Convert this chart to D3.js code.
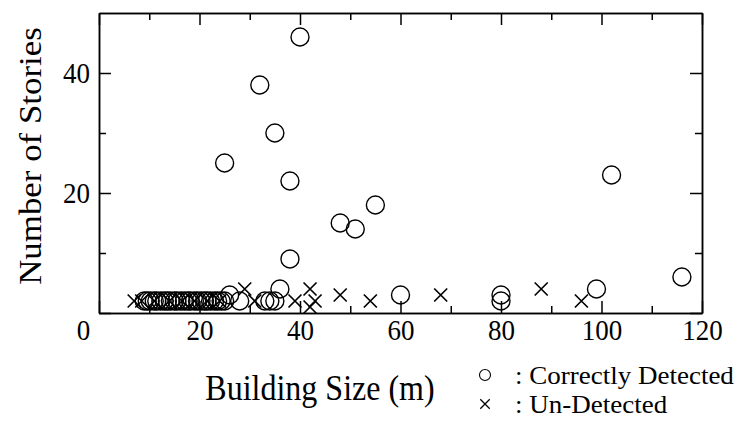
<!DOCTYPE html>
<html>
<head>
<meta charset="utf-8">
<script src="https://cdn.jsdelivr.net/npm/d3@7"></script>
<style>
  body { margin: 0; background: #fff; }
  svg { display: block; }
  .axis path, .axis line { stroke: #000; stroke-width: 1.5; }
  .axis text { font-family: "Liberation Serif", "Times New Roman", serif; font-size: 27px; fill: #000; }
  .title { font-family: "Liberation Serif", "Times New Roman", serif; font-size: 32px; fill: #000; }
  .legend text { font-family: "Liberation Serif", "Times New Roman", serif; font-size: 25px; fill: #000; }
</style>
</head>
<body>
<svg id="chart"></svg>
<script>
// Correctly detected buildings (circles)
const correctSize = [40, 32, 35, 25, 38, 55, 48, 51, 38, 102, 116, 99, 60, 80, 80, 36, 26, 28, 33, 34, 35,
  9, 9.6, 10.2, 11, 11.5, 12.3, 13, 13.6, 14.2, 15, 15.5, 16.3, 17, 17.7, 18.2, 19,
  19.6, 20.3, 21, 21.5, 22.2, 23, 23.6, 24.3, 25];
const correctStories = [46, 38, 30, 25, 22, 18, 15, 14, 9, 23, 6, 4, 3, 3, 2, 4, 3, 2, 2, 2, 2,
  2, 2, 2, 2, 2, 2, 2, 2, 2, 2, 2, 2, 2, 2, 2, 2,
  2, 2, 2, 2, 2, 2, 2, 2, 2];

// Un-detected buildings (crosses)
const missedSize = [7, 8.5, 11, 14, 16.5, 19, 21.5, 24, 29, 31, 39, 42, 43, 42, 48, 54, 68, 88, 96];
const missedStories = [2, 2, 2, 2, 2, 2, 2, 2, 4, 2, 2, 4, 2, 1, 3, 2, 3, 4, 2];

const xMajorTicks = [0, 20, 40, 60, 80, 100, 120];
const xMinorTicks = [10, 30, 50, 70, 90, 110];
const yMajorTicks = [0, 20, 40];
const yMinorTicks = [10, 30];

const legendLabels = [": Correctly Detected", ": Un-Detected"];

const width = 745;
const height = 421;
const margin = { top: 13, right: 43, bottom: 108, left: 99 };
const stretch = 1.09; // text in the source is a bit taller than wide

const svg = d3.select("#chart").attr("width", width).attr("height", height);

const xScale = d3.scaleLinear()
  .domain([0, 120])
  .range([margin.left, width - margin.right]);

const yScale = d3.scaleLinear()
  .domain([0, 50])
  .range([height - margin.bottom, margin.top]);

const bottom = height - margin.bottom;
const right = width - margin.right;

// bottom axis with labels
const xAxis = svg.append("g")
  .attr("class", "axis")
  .attr("transform", `translate(0,${bottom})`)
  .call(d3.axisBottom(xScale).tickValues(xMajorTicks).tickSizeInner(-12).tickSizeOuter(0).tickPadding(6));
xAxis.selectAll(".tick text").attr("transform", `scale(1,${stretch})`);
xAxis.selectAll(".tick").filter((d) => d === 0).select("text").attr("x", -16);

svg.append("g")
  .attr("class", "axis")
  .attr("transform", `translate(0,${bottom})`)
  .call(d3.axisBottom(xScale).tickValues(xMinorTicks).tickFormat("").tickSizeInner(-7).tickSizeOuter(0));

// top axis, ticks only
svg.append("g")
  .attr("class", "axis")
  .attr("transform", `translate(0,${margin.top})`)
  .call(d3.axisTop(xScale).tickValues(xMajorTicks).tickFormat("").tickSizeInner(-12).tickSizeOuter(0));
svg.append("g")
  .attr("class", "axis")
  .attr("transform", `translate(0,${margin.top})`)
  .call(d3.axisTop(xScale).tickValues(xMinorTicks).tickFormat("").tickSizeInner(-7).tickSizeOuter(0));

// left axis
const yAxis = svg.append("g")
  .attr("class", "axis")
  .attr("transform", `translate(${margin.left},0)`)
  .call(d3.axisLeft(yScale).tickValues(yMajorTicks).tickFormat((d) => (d === 0 ? "" : d))
    .tickSizeInner(-12).tickSizeOuter(0).tickPadding(9));
yAxis.selectAll(".tick text").attr("transform", `scale(1,${stretch})`);
svg.append("g")
  .attr("class", "axis")
  .attr("transform", `translate(${margin.left},0)`)
  .call(d3.axisLeft(yScale).tickValues(yMinorTicks).tickFormat("").tickSizeInner(-7).tickSizeOuter(0));

// right axis, ticks only
svg.append("g")
  .attr("class", "axis")
  .attr("transform", `translate(${right},0)`)
  .call(d3.axisRight(yScale).tickValues(yMajorTicks).tickFormat("").tickSizeInner(-12).tickSizeOuter(0));
svg.append("g")
  .attr("class", "axis")
  .attr("transform", `translate(${right},0)`)
  .call(d3.axisRight(yScale).tickValues(yMinorTicks).tickFormat("").tickSizeInner(-7).tickSizeOuter(0));

// points
const correct = correctSize.map((x, i) => ({ x: x, y: correctStories[i] }));
const missed = missedSize.map((x, i) => ({ x: x, y: missedStories[i] }));

svg.append("g")
  .selectAll("circle")
  .data(correct)
  .enter()
  .append("circle")
  .attr("cx", (d) => xScale(d.x))
  .attr("cy", (d) => yScale(d.y))
  .attr("r", 9)
  .attr("fill", "none")
  .attr("stroke", "#000")
  .attr("stroke-width", 1.4);

const cross = d3.symbol(d3.symbolX, 112);
svg.append("g")
  .selectAll("path")
  .data(missed)
  .enter()
  .append("path")
  .attr("transform", (d) => `translate(${xScale(d.x)},${yScale(d.y)})`)
  .attr("d", cross)
  .attr("fill", "none")
  .attr("stroke", "#000")
  .attr("stroke-width", 1.7);

// axis titles
svg.append("text")
  .attr("class", "title")
  .attr("transform", `translate(320,400) scale(1,${stretch})`)
  .attr("text-anchor", "middle")
  .text("Building Size (m)");

svg.append("text")
  .attr("class", "title")
  .attr("transform", `translate(41,156) rotate(-90) scale(${stretch},1)`)
  .attr("text-anchor", "middle")
  .text("Number of Stories");

// legend
const legend = svg.append("g").attr("class", "legend");
legend.append("circle")
  .attr("cx", 485).attr("cy", 375).attr("r", 5.5)
  .attr("fill", "none").attr("stroke", "#000").attr("stroke-width", 1.1);
legend.append("path")
  .attr("transform", "translate(485,404)")
  .attr("d", d3.symbol(d3.symbolX, 60))
  .attr("fill", "none").attr("stroke", "#000").attr("stroke-width", 1.3);
legend.selectAll("text")
  .data(legendLabels)
  .enter()
  .append("text")
  .attr("transform", (d, i) => `translate(515,${384 + i * 29}) scale(1.08,1.04)`)
  .text((d) => d);
</script>
</body>
</html>
